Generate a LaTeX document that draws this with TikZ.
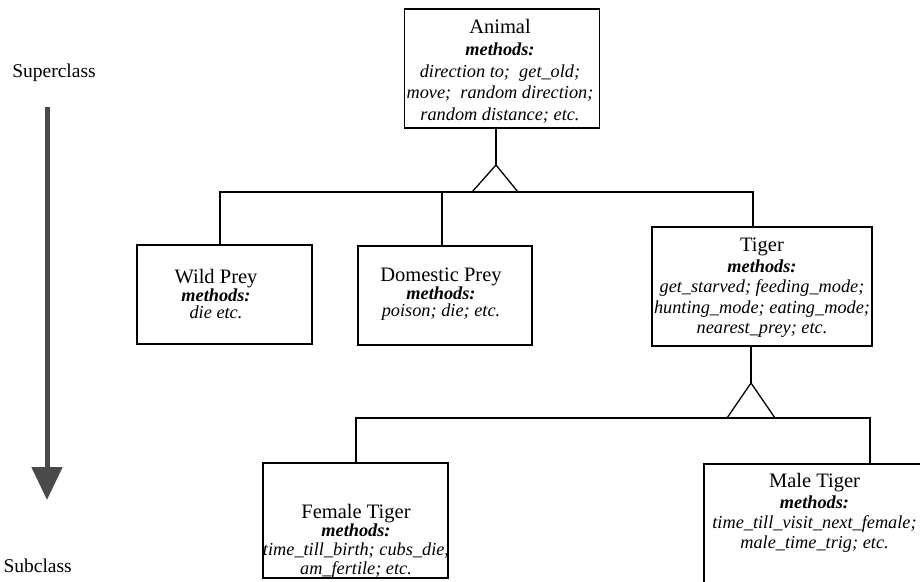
\documentclass[tikz,border=0pt]{standalone}
\usepackage{fontspec}
\setmainfont{Liberation Serif}
\usetikzlibrary{arrows.meta}
\definecolor{arrowgray}{HTML}{4A4A4A}
\begin{document}
\begin{tikzpicture}[x=1pt,y=-1pt,
  classbox/.style={draw, line width=1.3pt, inner sep=0pt, minimum width=#1},
  conn/.style={line width=1.3pt},
  classtext/.style={inner sep=0pt, align=center, font=\fontsize{18.3}{#1}\selectfont},
  sidelabel/.style={inner sep=0pt, font=\fontsize{19.5}{22}\selectfont}]
\newcommand{\cname}[1]{{\fontsize{20.5}{20}\selectfont #1}}
\newcommand{\meth}{\textbf{\textit{methods:}}}
\useasboundingbox (0,0) rectangle (920,581);
\clip (0,0) rectangle (920,581);

% boxes
\node[classbox=195pt, minimum height=119pt] (animal) at (502,68.5) {};
\node[classbox=175pt, minimum height=99pt] (wild) at (224.5,294.5) {};
\node[classbox=174pt, minimum height=99pt] (dom) at (445,295.5) {};
\node[classbox=220pt, minimum height=119pt] (tiger) at (762,286.5) {};
\node[classbox=185pt, minimum height=115pt] (female) at (355.5,520.5) {};
\node[classbox=222pt, minimum height=140pt] (male) at (815,534) {};

% texts
\node[classtext=21.75pt] (animalt) at (500,71.5) {\cname{Animal}\\ \meth\\ \textit{direction to;\ \ get\_old;}\\ \textit{move;\ \ random direction;}\\ \textit{random distance; etc.}};
\node[classtext=17.5pt] (wildt) at (216,294.5) {\cname{Wild Prey}\\ \meth\\ \textit{die etc.}};
\node[classtext=17.5pt] (domt) at (441,294.5) {\cname{Domestic Prey}\\ \meth\\ \textit{poison; die; etc.}};
\node[classtext=20.5pt] (tigert) at (762,288) {\cname{Tiger}\\ \meth\\ \textit{get\_starved; feeding\_mode;}\\ \textit{hunting\_mode; eating\_mode;}\\ \textit{nearest\_prey; etc.}};
\node[classtext=18.7pt] (femalet) at (356,541) {\cname{Female Tiger}\\ \meth\\ \textit{time\_till\_birth; cubs\_die,}\\ \textit{am\_fertile; etc.}};
\node[classtext=20.3pt] (malet) at (814.5,513) {\cname{Male Tiger}\\ \meth\\ \textit{time\_till\_visit\_next\_female;}\\ \textit{male\_time\_trig; etc.}};

% inheritance structure 1
\coordinate (t1apex) at (496,165);
\coordinate (t1l) at (472,192);
\coordinate (t1r) at (518,192);
\coordinate (bar1l) at (220,192);
\coordinate (bar1r) at (753,192);
\draw[conn] (animal.south -| t1apex) -- (t1apex);
\draw[conn] (t1l) -- (t1apex) -- (t1r);
\draw[conn] (wild.north -| bar1l) -- (bar1l) -- (bar1r) -- (tiger.north -| bar1r);
\draw[conn] (dom.north -| 442,0) -- (442,192);

% inheritance structure 2
\coordinate (t2apex) at (751,383);
\coordinate (t2l) at (727,418);
\coordinate (t2r) at (775,418);
\coordinate (bar2l) at (356,418);
\coordinate (bar2r) at (870,418);
\draw[conn] (tiger.south -| t2apex) -- (t2apex);
\draw[conn] (t2l) -- (t2apex) -- (t2r);
\draw[conn] (female.north -| bar2l) -- (bar2l) -- (bar2r) -- (male.north -| bar2r);

% superclass / subclass arrow
\node[sidelabel] (sup) at (54,73) {Superclass};
\node[sidelabel, anchor=east] (sub) at (72,566) {Subclass};
\coordinate (arTop) at (47,107);
\coordinate (arTip) at (47,500);
\draw[line width=5pt, arrowgray, -{Triangle[width=30pt,length=33pt]}] (arTop) -- (arTip);
\end{tikzpicture}
\end{document}
